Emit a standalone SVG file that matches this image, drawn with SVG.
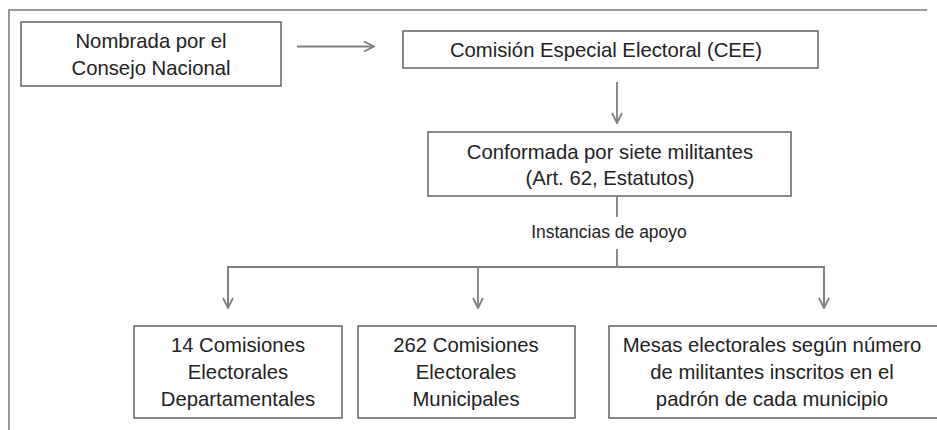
<svg xmlns="http://www.w3.org/2000/svg" width="937" height="430" viewBox="0 0 937 430">
<style>
.box{fill:#fff;stroke:#4a4a4a;stroke-width:1.3}
.t{font-family:"Liberation Sans",Arial,sans-serif;font-size:20.3px;fill:#222;text-anchor:middle}
.s{font-family:"Liberation Sans",Arial,sans-serif;font-size:17.5px;fill:#222;text-anchor:middle}
.c{fill:none;stroke:#7f7f7f;stroke-width:1.8}
.frame{fill:none;stroke:#9a9a9a;stroke-width:2}
</style>
<defs>
<marker id="ah" viewBox="0 0 12 12" refX="11" refY="6" markerWidth="12" markerHeight="12" markerUnits="userSpaceOnUse" orient="auto">
<path d="M1,1 L11,6 L1,11" fill="none" stroke="#7f7f7f" stroke-width="1.8"/>
</marker>
</defs>
<rect width="937" height="430" fill="#fff"/>
<path class="frame" d="M9,430 V10 H927"/>
<g id="connectors">
<line class="c" x1="297" y1="46.5" x2="374" y2="46.5" marker-end="url(#ah)"/>
<line class="c" x1="617" y1="82" x2="617" y2="123" marker-end="url(#ah)"/>
<line class="c" x1="617" y1="197" x2="617" y2="217"/>
<text class="s" x="609" y="238">Instancias de apoyo</text>
<line class="c" x1="617" y1="249" x2="617" y2="267"/>
<path class="c" d="M228,307 V267 H824 V307"/>
<line class="c" x1="228" y1="267" x2="228" y2="308" marker-end="url(#ah)"/>
<line class="c" x1="478" y1="267" x2="478" y2="308" marker-end="url(#ah)"/>
<line class="c" x1="824" y1="267" x2="824" y2="308" marker-end="url(#ah)"/>
</g>
<g id="n1">
<rect class="box" x="21" y="22" width="260" height="64"/>
<text class="t" x="151" y="48">Nombrada por el</text>
<text class="t" x="151" y="75">Consejo Nacional</text>
</g>
<g id="n2">
<rect class="box" x="403" y="31" width="415" height="37"/>
<text class="t" x="606" y="57">Comisión Especial Electoral (CEE)</text>
</g>
<g id="n3">
<rect class="box" x="428" y="132" width="363" height="64"/>
<text class="t" x="610" y="159">Conformada por siete militantes</text>
<text class="t" x="610" y="185">(Art. 62, Estatutos)</text>
</g>
<g id="n4">
<rect class="box" x="134" y="326" width="208" height="92"/>
<text class="t" x="238" y="352">14 Comisiones</text>
<text class="t" x="238" y="379">Electorales</text>
<text class="t" x="238" y="406">Departamentales</text>
</g>
<g id="n5">
<rect class="box" x="358" y="326" width="217" height="92"/>
<text class="t" x="466" y="352">262 Comisiones</text>
<text class="t" x="466" y="379">Electorales</text>
<text class="t" x="466" y="406">Municipales</text>
</g>
<g id="n6">
<rect class="box" x="609" y="326" width="330" height="92"/>
<text class="t" x="772" y="352">Mesas electorales según número</text>
<text class="t" x="772" y="379">de militantes inscritos en el</text>
<text class="t" x="772" y="406">padrón de cada municipio</text>
</g>
</svg>
